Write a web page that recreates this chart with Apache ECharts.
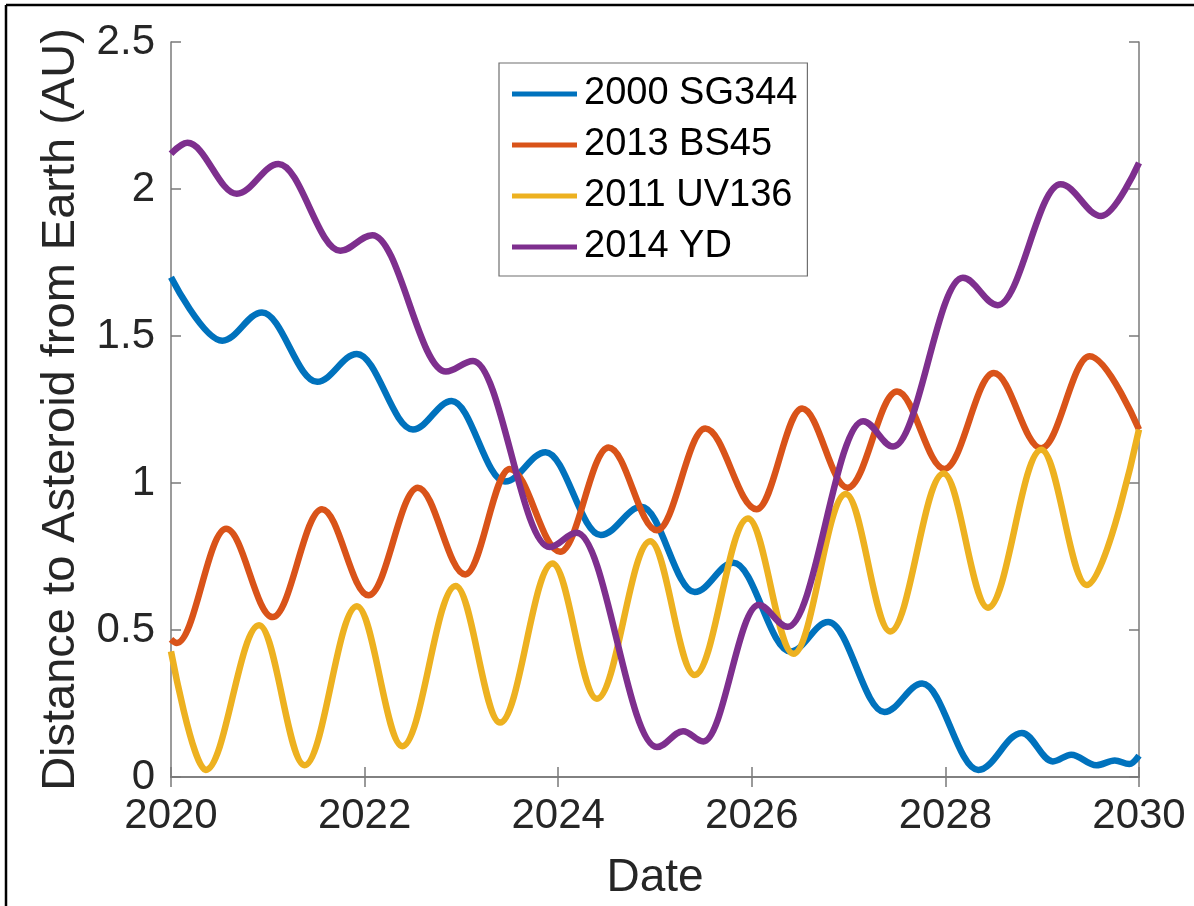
<!DOCTYPE html>
<html>
<head>
<meta charset="utf-8">
<title>Distance to Asteroid from Earth</title>
<script src="https://cdn.jsdelivr.net/npm/echarts@6/dist/echarts.min.js"></script>
<style>
  html, body { margin: 0; padding: 0; background: #fff; }
  #main { width: 1194px; height: 906px; }
</style>
</head>
<body>
<div id="main"></div>
<script>
// 图例名称
var names = ["2000 SG344", "2013 BS45", "2011 UV136", "2014 YD"];
var colors = ["#0072BD", "#D95319", "#EDB120", "#7E2F8E"];

// 坐标轴刻度
var xTicks = [2020, 2022, 2024, 2026, 2028, 2030];
var yTicks = [0, 0.5, 1, 1.5, 2, 2.5];

// 各小行星的极值点 (年, AU)
// 2000 SG344
var sgYears = [2020.0, 2020.53, 2020.94, 2021.51, 2021.92, 2022.50, 2022.90, 2023.45, 2023.87, 2024.44,
  2024.86, 2025.41, 2025.81, 2026.40, 2026.79, 2027.37, 2027.76, 2028.34, 2028.79, 2029.11,
  2029.30, 2029.56, 2029.75, 2029.90, 2030.0];
var sgDist = [1.70, 1.484, 1.58, 1.344, 1.439, 1.182, 1.279, 1.005, 1.105, 0.823,
  0.919, 0.629, 0.729, 0.427, 0.527, 0.221, 0.318, 0.024, 0.150, 0.053,
  0.076, 0.040, 0.056, 0.044, 0.073];

// 2013 BS45
var bsYears = [2020.0, 2020.06, 2020.57, 2021.05, 2021.56, 2022.04, 2022.55, 2023.04, 2023.50, 2024.02,
  2024.52, 2025.02, 2025.52, 2026.05, 2026.52, 2026.99, 2027.50, 2027.99, 2028.50, 2028.99,
  2029.49, 2030.0];
var bsDist = [0.468, 0.456, 0.844, 0.544, 0.911, 0.618, 0.984, 0.689, 1.048, 0.766,
  1.121, 0.839, 1.185, 0.911, 1.253, 0.984, 1.311, 1.048, 1.374, 1.118,
  1.431, 1.182];

// 2011 UV136
var uvYears = [2020.0, 2020.36, 2020.91, 2021.38, 2021.92, 2022.39, 2022.94, 2023.40, 2023.94, 2024.40,
  2024.95, 2025.41, 2025.96, 2026.43, 2026.97, 2027.43, 2027.98, 2028.44, 2028.99, 2029.46, 2030.0];
var uvDist = [0.427, 0.024, 0.516, 0.040, 0.581, 0.105, 0.650, 0.185, 0.726, 0.266,
  0.802, 0.347, 0.879, 0.419, 0.963, 0.495, 1.032, 0.576, 1.113, 0.653, 1.182];

// 2014 YD
var ydYears = [2020.0, 2020.17, 2020.68, 2021.11, 2021.75, 2022.08, 2022.84, 2023.12, 2023.91, 2024.19,
  2025.02, 2025.29, 2025.50, 2026.07, 2026.37, 2027.15, 2027.46, 2028.18, 2028.54, 2029.19,
  2029.61, 2030.0];
var ydDist = [2.12, 2.157, 1.984, 2.085, 1.79, 1.843, 1.379, 1.415, 0.782, 0.831,
  0.102, 0.156, 0.121, 0.585, 0.511, 1.21, 1.124, 1.698, 1.605, 2.016,
  1.908, 2.089];

var FONT = "'Liberation Sans', Arial, Helvetica, sans-serif";
var AXIS_GRAY = "#7a7a7a";
var TEXT = "#262626";

function pairs(xs, ys) {
  var out = [];
  for (var i = 0; i < xs.length; i++) {
    out.push([xs[i], ys[i]]);
  }
  return out;
}

function makeLine(idx, xs, ys) {
  return {
    name: names[idx],
    type: "line",
    data: pairs(xs, ys),
    // 极值点处切线水平, 近似正弦曲线
    smooth: 0.36,
    smoothMonotone: "x",
    symbol: "none",
    lineStyle: { color: colors[idx], width: 6.5 },
    itemStyle: { color: colors[idx] },
    emphasis: { disabled: true },
    z: 2 + idx
  };
}

var myChart = echarts.init(document.getElementById("main"), null, { renderer: "canvas" });

var xBase = {
  type: "value",
  min: xTicks[0],
  max: xTicks[xTicks.length - 1],
  interval: 2,
  splitLine: { show: false },
  axisLine: { show: true, lineStyle: { color: AXIS_GRAY, width: 1.5 } },
  axisTick: { show: true, inside: true, length: 10, lineStyle: { color: AXIS_GRAY, width: 1.5 } }
};
var yBase = {
  type: "value",
  min: yTicks[0],
  max: yTicks[yTicks.length - 1],
  interval: 0.5,
  splitLine: { show: false },
  axisLine: { show: true, lineStyle: { color: AXIS_GRAY, width: 1.5 } },
  axisTick: { show: true, inside: true, length: 10, lineStyle: { color: AXIS_GRAY, width: 1.5 } }
};

myChart.setOption({
  animation: false,
  backgroundColor: "#fff",
  textStyle: { fontFamily: FONT },
  grid: { left: 171, right: 55, top: 42, bottom: 126, containLabel: false },
  legend: {
    data: names,
    orient: "vertical",
    left: 499,
    top: 63,
    icon: "rect",
    itemWidth: 65,
    itemHeight: 5,
    itemGap: 13,
    padding: [12, 10, 10, 13],
    borderColor: "#6f6f6f",
    borderWidth: 1.2,
    backgroundColor: "#fff",
    textStyle: { fontFamily: FONT, fontSize: 38, color: "#000", padding: [0, 0, 0, 2] }
  },
  xAxis: [
    Object.assign({}, xBase, {
      position: "bottom",
      name: "Date",
      nameLocation: "middle",
      nameGap: 78,
      nameTextStyle: { fontFamily: FONT, fontSize: 46, color: TEXT },
      axisLabel: {
        fontFamily: FONT, fontSize: 42, color: TEXT, margin: 18,
        formatter: function (v) { return String(v); }
      }
    }),
    Object.assign({}, xBase, { position: "top", axisLabel: { show: false } })
  ],
  yAxis: [
    Object.assign({}, yBase, {
      position: "left",
      name: "Distance to Asteroid from Earth (AU)",
      nameLocation: "middle",
      nameGap: 86,
      nameTextStyle: { fontFamily: FONT, fontSize: 47, color: TEXT },
      axisLabel: { fontFamily: FONT, fontSize: 42, color: TEXT, margin: 16 }
    }),
    Object.assign({}, yBase, { position: "right", axisLabel: { show: false } })
  ],
  series: [
    makeLine(0, sgYears, sgDist),
    makeLine(1, bsYears, bsDist),
    makeLine(2, uvYears, uvDist),
    makeLine(3, ydYears, ydDist)
  ],
  // 外框 (左边和上边)
  graphic: [
    { type: "line", shape: { x1: 6, y1: 5, x2: 6, y2: 906 }, style: { stroke: "#000", lineWidth: 2.5 } },
    { type: "line", shape: { x1: 6, y1: 5, x2: 1194, y2: 5 }, style: { stroke: "#000", lineWidth: 2.5 } }
  ]
});
</script>
</body>
</html>
